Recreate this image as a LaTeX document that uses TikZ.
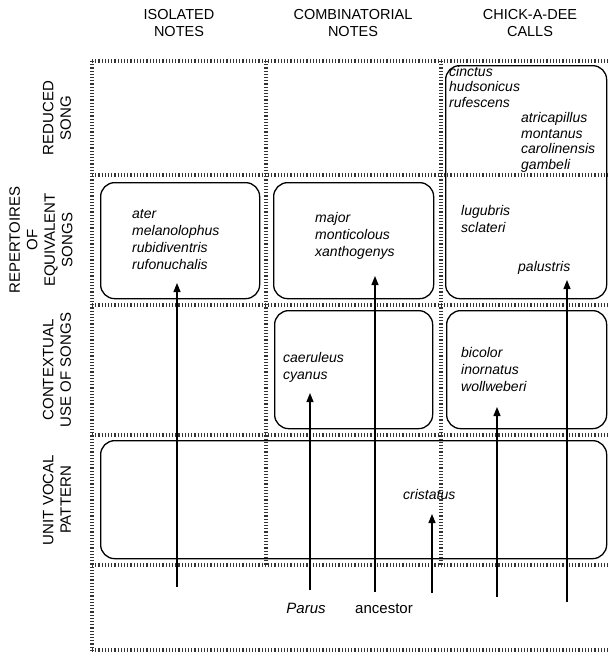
\documentclass[tikz,border=0pt]{standalone}
\usepackage{fontspec}
\setmainfont{Liberation Sans}
\usetikzlibrary{arrows.meta}
\begin{document}
\begin{tikzpicture}[x=1pt,y=-1pt,
  hatch/.style={line width=3.6pt, dash pattern=on 1.1pt off 2.1pt, draw=black!80},
  box/.style={draw, line width=1.3pt, rounded corners=14pt, inner sep=0pt, anchor=north west},
  head/.style={font=\fontsize{14.5}{17}\selectfont, align=center, inner sep=0pt},
  rowlab/.style={font=\fontsize{15}{17.5}\selectfont, align=center, inner sep=0pt, rotate=90},
  spec/.style={font=\fontsize{14}{16}\selectfont\itshape, anchor=base west, inner sep=0pt},
  stem/.style={line width=1.2pt, -{Triangle[length=9pt,width=7pt]}}]
\useasboundingbox (0,0) rectangle (608,653);
% grid
\draw[hatch] (92,61) -- (608,61);
\draw[hatch] (92,175) -- (608,175);
\draw[hatch] (92,305) -- (608,305);
\draw[hatch] (92,435) -- (608,435);
\draw[hatch] (92,565) -- (608,565);
\draw[hatch] (92,650) -- (608,650);
\draw[hatch] (92,61) -- (92,652);
\draw[hatch] (266,61) -- (266,565);
\draw[hatch] (441,61) -- (441,565);
% headers
\node[head] (h1) at (179,23.5) {ISOLATED\\NOTES};
\node[head] (h2) at (353,23.5) {COMBINATORIAL\\NOTES};
\node[head] (h3) at (530,23.5) {CHICK-A-DEE\\CALLS};
% row labels
\node[rowlab] (r1) at (57,118) {REDUCED\\SONG};
\node[rowlab] (r2) at (41,240) {REPERTOIRES\\OF\\EQUIVALENT\\SONGS};
\node[rowlab] (r3) at (57,370) {CONTEXTUAL\\USE OF SONGS};
\node[rowlab] (r4) at (57,500) {UNIT VOCAL\\PATTERN};
% boxes
\node[box, minimum width=161pt, minimum height=233pt] (bch) at (445,65) {};
\node[box, minimum width=159pt, minimum height=116pt] (biso) at (100,182) {};
\node[box, minimum width=160pt, minimum height=116pt] (bcomb) at (273,182) {};
\node[box, minimum width=158pt, minimum height=118pt] (bctx) at (274,310) {};
\node[box, minimum width=160pt, minimum height=118pt] (bctxch) at (446,310) {};
\node[box, minimum width=506pt, minimum height=118pt] (bunit) at (100,440) {};
% species
\foreach \n/\x/\y/\t in {
  s1/449/76/cinctus, s2/449/91.5/hudsonicus, s3/449/107/rufescens,
  s4/521/122.5/atricapillus, s5/521/138/montanus, s6/521/153.5/carolinensis, s7/521/169/gambeli,
  s8/132/218/ater, s9/132/235/melanolophus, s10/132/252/rubidiventris, s11/132/269/rufonuchalis,
  s12/315/222/major, s13/315/239/monticolous, s14/315/256/xanthogenys,
  s15/461/215/lugubris, s16/461/232/sclateri, s17/518/271/palustris,
  s18/283/362/caeruleus, s19/283/379/cyanus,
  s20/461/357/bicolor, s21/461/374/inornatus, s22/461/391/wollweberi,
  s23/403/499/cristatus}
  \node[spec] (\n) at (\x,\y) {\t};
% ancestor
\node[font=\fontsize{15}{17}\selectfont\itshape, anchor=base, inner sep=0pt] (parus) at (306,613) {Parus};
\node[font=\fontsize{15}{17}\selectfont, anchor=base, inner sep=0pt] (anc) at (384,613) {ancestor};
% stems
\coordinate (a1) at (177,587); \coordinate (t1) at (177,283);
\coordinate (a2) at (310,590); \coordinate (t2) at (310,393);
\coordinate (a3) at (375,592); \coordinate (t3) at (375,276);
\coordinate (a4) at (432,593); \coordinate (t4) at (432,514);
\coordinate (a5) at (497,597); \coordinate (t5) at (497,407);
\coordinate (a6) at (567,602); \coordinate (t6) at (567,280);
\foreach \i in {1,...,6} \draw[stem] (a\i) -- (t\i);
\end{tikzpicture}
\end{document}
